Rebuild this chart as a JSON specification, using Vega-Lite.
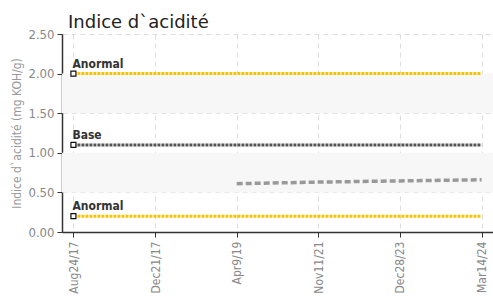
{
  "$schema": "https://vega.github.io/schema/vega-lite/v6.json",
  "width": 431,
  "height": 198,
  "autosize": {"type": "none"},
  "padding": {"left": 62, "top": 34, "right": 0, "bottom": 64},
  "title": {"text": "Indice d`acidité", "anchor": "start", "frame": "group", "dx": 6, "offset": -4, "fontSize": 18, "fontWeight": "normal", "color": "#222", "font": "DejaVu Sans"},
  "datasets": {
    "bands": [{"y0": 0.5, "y1": 1.0}, {"y0": 1.5, "y1": 2.0}],
    "series": [
      {"date": "Aug24/17", "value": 2.0, "serie": "haut"},
      {"date": "Dec21/17", "value": 2.0, "serie": "haut"},
      {"date": "Apr9/19", "value": 2.0, "serie": "haut"},
      {"date": "Nov11/21", "value": 2.0, "serie": "haut"},
      {"date": "Dec28/23", "value": 2.0, "serie": "haut"},
      {"date": "Mar14/24", "value": 2.0, "serie": "haut"},
      {"date": "Aug24/17", "value": 0.2, "serie": "bas"},
      {"date": "Dec21/17", "value": 0.2, "serie": "bas"},
      {"date": "Apr9/19", "value": 0.2, "serie": "bas"},
      {"date": "Nov11/21", "value": 0.2, "serie": "bas"},
      {"date": "Dec28/23", "value": 0.2, "serie": "bas"},
      {"date": "Mar14/24", "value": 0.2, "serie": "bas"},
      {"date": "Aug24/17", "value": 1.1, "serie": "base"},
      {"date": "Dec21/17", "value": 1.1, "serie": "base"},
      {"date": "Apr9/19", "value": 1.1, "serie": "base"},
      {"date": "Nov11/21", "value": 1.1, "serie": "base"},
      {"date": "Dec28/23", "value": 1.1, "serie": "base"},
      {"date": "Mar14/24", "value": 1.1, "serie": "base"},
      {"date": "Apr9/19", "value": 0.61, "serie": "mesure"},
      {"date": "Nov11/21", "value": 0.63, "serie": "mesure"},
      {"date": "Dec28/23", "value": 0.645, "serie": "mesure"},
      {"date": "Mar14/24", "value": 0.66, "serie": "mesure"}
    ],
    "labels": [
      {"date": "Aug24/17", "value": 2.0, "label": "Anormal"},
      {"date": "Aug24/17", "value": 1.1, "label": "Base"},
      {"date": "Aug24/17", "value": 0.2, "label": "Anormal"}
    ]
  },
  "encoding": {
    "x": {
      "field": "date", "type": "ordinal",
      "sort": ["Aug24/17", "Dec21/17", "Apr9/19", "Nov11/21", "Dec28/23", "Mar14/24"],
      "scale": {"type": "point", "padding": 0.14},
      "axis": {"title": null, "labelAngle": -90, "labelColor": "#888", "labelFont": "DejaVu Sans Condensed", "labelFontSize": 12, "domainColor": "#333", "domainWidth": 1.5, "tickColor": "#333", "tickSize": 5, "labelPadding": 4, "grid": true, "gridDash": [5, 4], "gridColor": "#ddd"}
    },
    "y": {
      "field": "value", "type": "quantitative",
      "scale": {"domain": [0, 2.5], "nice": false},
      "axis": {"title": "Indice d`acidité (mg KOH/g)", "titleColor": "#999", "titleFont": "DejaVu Sans Condensed", "titleFontSize": 12, "titleFontWeight": "normal", "titlePadding": 4, "values": [0, 0.5, 1, 1.5, 2, 2.5], "format": ".2f", "labelColor": "#888", "labelFont": "DejaVu Sans Condensed", "labelFontSize": 13, "domainColor": "#333", "domainWidth": 1.5, "tickColor": "#333", "tickSize": 5, "labelPadding": 3, "grid": true, "gridDash": [5, 4], "gridColor": "#ddd"}
    }
  },
  "layer": [
    {
      "data": {"name": "bands"},
      "mark": {"type": "rect", "color": "#f7f7f7"},
      "encoding": {
        "x": null,
        "y": {"field": "y0", "type": "quantitative"},
        "y2": {"field": "y1"}
      }
    },
    {
      "data": {"name": "series"},
      "transform": [{"filter": "datum.serie === 'haut' || datum.serie === 'bas'"}],
      "mark": {"type": "line", "color": "#f5c400", "strokeWidth": 3, "strokeDash": [3, 1]},
      "encoding": {"detail": {"field": "serie"}}
    },
    {
      "data": {"name": "series"},
      "transform": [{"filter": "datum.serie === 'base'"}],
      "mark": {"type": "line", "color": "#555", "strokeWidth": 3, "strokeDash": [3, 1]},
      "encoding": {}
    },
    {
      "data": {"name": "series"},
      "transform": [{"filter": "datum.serie === 'mesure'"}],
      "mark": {"type": "line", "color": "#999", "strokeWidth": 3.5, "strokeDash": [6, 3]},
      "encoding": {}
    },
    {
      "data": {"name": "labels"},
      "mark": {"type": "point", "shape": "square", "size": 25, "filled": true, "fill": "white", "stroke": "#111", "strokeWidth": 1.2, "opacity": 1}
    },
    {
      "data": {"name": "labels"},
      "mark": {"type": "text", "align": "left", "baseline": "bottom", "dx": -1, "dy": -3, "font": "DejaVu Sans Condensed", "fontSize": 12, "fontWeight": "bold", "color": "#333"},
      "encoding": {"text": {"field": "label"}}
    }
  ],
  "config": {"view": {"stroke": null}}
}
